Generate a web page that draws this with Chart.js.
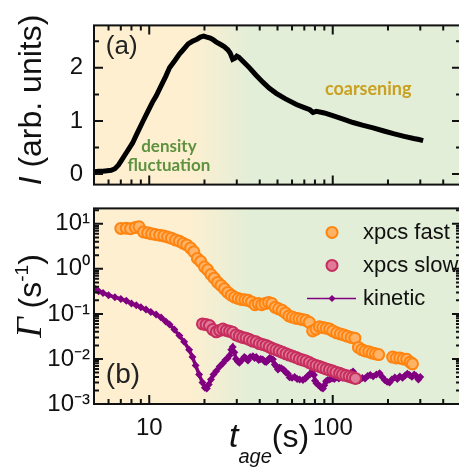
<!DOCTYPE html>
<html lang="en">
<head>
<meta charset="UTF-8">
<title>Intensity and relaxation rate vs sample age</title>
<script src="https://cdn.jsdelivr.net/npm/chart.js"></script>
<style>
  html, body { margin: 0; padding: 0; overflow: hidden; background: #fff; }
  #wrap { position: relative; width: 459px; height: 471px; overflow: hidden; }
  canvas { position: absolute; left: 0; }
  #topPanel { top: 0; }
  #botPanel { top: 190px; }
</style>
</head>
<body>
<div id="wrap">
  <canvas id="topPanel" width="470" height="210" style="width:470px;height:210px"></canvas>
  <canvas id="botPanel" width="470" height="281" style="width:470px;height:281px"></canvas>
</div>
<script>
// panel (a): scattered intensity
const ageI = [5.0, 5.3, 5.6, 5.9, 6.2, 6.5, 6.8, 7.1, 7.5, 8.1, 8.6, 9.2, 9.8, 10.4, 10.9, 11.6, 12.3, 12.9,
  13.8, 14.6, 15.4, 16.3, 17.2, 18.2, 19.0, 19.8, 20.6, 21.5, 22.3, 23.1, 24.5, 25.6, 26.8, 27.6, 28.5,
  29.3, 30.0, 30.8, 32.5, 35.2, 38.0, 41.6, 45.0, 49.2, 55.0, 63.4, 70.0, 75.0, 78.0, 81.5, 90.0, 100,
  115, 129, 145, 166, 190, 214, 245, 276, 295, 311];
const intensity = [0.04, 0.05, 0.05, 0.06, 0.07, 0.10, 0.17, 0.27, 0.40, 0.58, 0.77, 0.98, 1.17, 1.35, 1.47,
  1.66, 1.84, 2.00, 2.14, 2.26, 2.35, 2.45, 2.50, 2.54, 2.58, 2.60, 2.58, 2.56, 2.53, 2.49, 2.44, 2.40,
  2.34, 2.28, 2.16, 2.18, 2.22, 2.20, 2.12, 2.00, 1.87, 1.73, 1.62, 1.52, 1.42, 1.31, 1.25, 1.21, 1.16,
  1.18, 1.15, 1.10, 1.03, 0.97, 0.92, 0.87, 0.81, 0.76, 0.71, 0.67, 0.65, 0.63];

// panel (b): relaxation rates
const ageFast = [7.0, 7.5, 7.9, 8.4, 8.8, 9.3, 9.8, 10.3, 10.8, 11.4, 12.0, 12.6, 13.2, 13.9, 14.6, 15.3,
  16.0, 16.8, 17.5, 18.3, 19.1, 20.0, 20.8, 21.7, 22.6, 23.6, 24.6, 25.7, 26.8, 28.0, 29.2, 30.5, 31.8,
  33.2, 34.6, 36.1, 37.7, 39.3, 41.0, 42.8, 44.7, 46.6, 48.6, 50.7, 53.0, 55.3, 57.7, 60.2, 62.8, 65.5,
  68.4, 71.4, 74.5, 77.7, 81.1, 84.6, 88.3, 92.2, 96.2, 100, 105, 110, 115, 120, 126, 132, 138, 144,
  150, 157, 164, 171, 178, 212, 222, 232, 242, 253, 264, 272];
const rateFast = [7.9, 8.0, 7.8, 8.3, 8.6, 6.6, 6.3, 6.0, 5.8, 5.6, 5.4, 5.1, 4.8, 4.4, 4.1, 3.7, 3.4,
  2.9, 2.4, 1.7, 1.45, 1.1, 0.95, 0.75, 0.62, 0.50, 0.43, 0.36, 0.30, 0.26, 0.235, 0.22, 0.21, 0.205,
  0.20, 0.185, 0.16, 0.17, 0.16, 0.17, 0.18, 0.17, 0.14, 0.13, 0.12, 0.105, 0.09, 0.085, 0.08, 0.078,
  0.075, 0.072, 0.065, 0.042, 0.046, 0.052, 0.05, 0.048, 0.046, 0.042, 0.038, 0.036, 0.034, 0.032,
  0.030, 0.029, 0.018, 0.016, 0.015, 0.0145, 0.0135, 0.013, 0.0125, 0.011, 0.0105, 0.0105, 0.010,
  0.0098, 0.0085, 0.0078];

const ageSlow = [19.5, 20.4, 21.3, 22.2, 23.2, 24.2, 25.2, 26.3, 27.4, 28.5, 29.7, 31.0, 32.3, 33.7, 35.1,
  36.6, 38.2, 39.8, 41.5, 43.3, 45.1, 47.0, 49.0, 51.1, 53.3, 55.6, 58.0, 60.5, 63.1, 65.8, 68.6, 71.5,
  74.6, 77.8, 81.1, 84.6, 88.2, 92.0, 95.9, 100, 104, 109, 113, 118, 123, 128, 133];
const rateSlow = [0.060, 0.058, 0.055, 0.045, 0.040, 0.043, 0.046, 0.043, 0.041, 0.039, 0.034, 0.032,
  0.030, 0.029, 0.027, 0.025, 0.024, 0.022, 0.021, 0.020, 0.0185, 0.017, 0.016, 0.015, 0.014, 0.013,
  0.0122, 0.0115, 0.0108, 0.010, 0.0095, 0.009, 0.0083, 0.0076, 0.0072, 0.0068, 0.0064, 0.006, 0.0057,
  0.0054, 0.0051, 0.0048, 0.0045, 0.0043, 0.0041, 0.0039, 0.0037];

const ageKin = [5.0, 5.3, 5.6, 6.0, 6.5, 7.0, 7.5, 8.0, 8.5, 9.0, 9.6, 10.2, 10.9, 11.6, 12.3, 12.9, 13.7,
  14.6, 15.5, 16.5, 17.2, 17.9, 18.7, 19.5, 20.1, 20.6, 21.1, 21.7, 22.4, 23.2, 24.2, 25.2, 26.0, 26.7,
  27.4, 28.0, 28.5, 29.1, 29.7, 30.4, 31.0, 32.0, 33.0, 33.7, 34.5, 35.5, 36.7, 37.5, 38.3, 39.5, 40.5,
  41.5, 42.5, 43.4, 44.4, 45.3, 46.3, 47.2, 48.3, 49.3, 50.3, 51.3, 52.5, 54, 55.5, 57, 58.2, 60, 62,
  64, 66, 68.8, 71, 73, 75, 76.5, 78, 79, 80, 81.5, 83, 85, 86.5, 88.5, 90, 92, 94, 96.3, 99, 102, 105,
  108, 111, 113, 117, 121, 125, 129, 132, 136, 140, 145, 150, 155, 160, 166, 173, 180, 186, 192, 198,
  204, 210, 218, 225, 232, 240, 248, 255, 262, 270, 278, 285, 293, 300];
const rateKin = [0.38, 0.32, 0.29, 0.26, 0.235, 0.215, 0.195, 0.17, 0.155, 0.14, 0.125, 0.11, 0.097,
  0.083, 0.068, 0.058, 0.045, 0.033, 0.024, 0.016, 0.011, 0.0072, 0.0045, 0.0030, 0.0023, 0.0022,
  0.0027, 0.0035, 0.0045, 0.0054, 0.0068, 0.0080, 0.0095, 0.0103, 0.012, 0.016, 0.0185, 0.014, 0.010,
  0.0088, 0.0082, 0.0095, 0.011, 0.0102, 0.0092, 0.011, 0.0115, 0.0105, 0.011, 0.0095, 0.010, 0.0098,
  0.0088, 0.0085, 0.0095, 0.0105, 0.010, 0.0098, 0.0075, 0.0068, 0.0058, 0.0064, 0.0062, 0.0058, 0.005,
  0.0047, 0.0039, 0.0038, 0.004, 0.0036, 0.0035, 0.0034, 0.0037, 0.0042, 0.0045, 0.0050, 0.0055,
  0.0044, 0.0033, 0.0029, 0.0027, 0.0025, 0.0023, 0.0022, 0.0026, 0.0032, 0.0034, 0.0035, 0.0037,
  0.0036, 0.0039, 0.0037, 0.0040, 0.0038, 0.0042, 0.0045, 0.0049, 0.0053, 0.0041, 0.0037, 0.0034,
  0.0038, 0.0037, 0.0042, 0.0044, 0.0041, 0.0045, 0.0048, 0.0040, 0.0034, 0.0031, 0.0030, 0.0035,
  0.0039, 0.0036, 0.0041, 0.0038, 0.0043, 0.0047, 0.0044, 0.0040, 0.0045, 0.0042, 0.0035, 0.0040];

// axes
const ageLabels = [10, 100];
const ageMinor = [6, 7, 8, 9, 20, 30, 40, 50, 60, 70, 80, 90, 200, 300, 400];
const iLabels = [0, 1, 2];
const iMinor = [0.5, 1.5, 2.5];
const rateLabels = [0.001, 0.01, 0.1, 1, 10];

const rateMinor = [];
for (let e = -3; e <= 1; e++) {
  for (let m = 2; m <= 9; m++) {
    const v = m * Math.pow(10, e);
    if (v < 22) rateMinor.push(v);
  }
}

const pts = (xs, ys) => xs.map((x, i) => ({ x: x, y: ys[i] }));
const sup = { '-': '\u207B', '0': '\u2070', '1': '\u00B9', '2': '\u00B2', '3': '\u00B3' };
const tickFont = { family: 'Liberation Sans, Arial, sans-serif', size: 24 };
const cream = 'rgb(253,239,208)';
const green = 'rgb(226,238,216)';

// background, frame, inward ticks, notes and titles for one panel
function panel(cfg) {
  return {
    id: 'panel',
    beforeDraw(chart) {
      const { ctx, chartArea: a } = chart;
      const xs = chart.scales.x;
      const w = a.right - a.left;
      const g = ctx.createLinearGradient(a.left, 0, a.right, 0);
      g.addColorStop(0, cream);
      g.addColorStop((xs.getPixelForValue(17) - a.left) / w, cream);
      g.addColorStop((xs.getPixelForValue(36) - a.left) / w, green);
      g.addColorStop(1, green);
      ctx.save();
      ctx.fillStyle = g;
      ctx.fillRect(a.left, a.top, w, a.bottom - a.top);
      ctx.restore();
    },
    afterDatasetsDraw(chart) {
      const { ctx } = chart;
      const xs = chart.scales.x, ys = chart.scales.y;
      ctx.save();
      (cfg.notes || []).forEach(n => {
        ctx.font = n.font;
        ctx.fillStyle = n.color;
        ctx.textAlign = n.align;
        ctx.textBaseline = 'middle';
        ctx.fillText(n.text, xs.getPixelForValue(n.x), ys.getPixelForValue(n.y));
      });
      ctx.restore();
      if (cfg.legend) cfg.legend(chart);
    },
    afterDraw(chart) {
      const { ctx, chartArea: a } = chart;
      const xs = chart.scales.x, ys = chart.scales.y;
      ctx.save();
      ctx.strokeStyle = '#111';
      ctx.lineWidth = 2;
      ctx.beginPath();
      const xt = (vals, len) => vals.forEach(v => {
        const p = xs.getPixelForValue(v);
        ctx.moveTo(p, a.bottom); ctx.lineTo(p, a.bottom - len);
        if (cfg.topTicks) { ctx.moveTo(p, a.top); ctx.lineTo(p, a.top + len); }
      });
      const yt = (vals, len) => vals.forEach(v => {
        const p = ys.getPixelForValue(v);
        ctx.moveTo(a.left, p); ctx.lineTo(a.left + len, p);
        ctx.moveTo(a.right, p); ctx.lineTo(a.right - len, p);
      });
      xt(ageLabels, 9); xt(ageMinor, 5);
      yt(cfg.yMajor, 9); yt(cfg.yMinor, 5);
      ctx.stroke();
      ctx.strokeRect(a.left, a.top, a.right - a.left, a.bottom - a.top);
      ctx.restore();
      cfg.titles.forEach(t => drawSegments(ctx, t));
    }
  };
}

function drawSegments(ctx, t) {
  ctx.save();
  ctx.translate(t.x, t.y);
  if (t.rotate) ctx.rotate(-Math.PI / 2);
  let total = 0;
  t.segs.forEach(s => { ctx.font = s.font; s.w = ctx.measureText(s.text).width; total += s.w; });
  let cx = t.center ? -total / 2 : 0;
  ctx.fillStyle = '#111';
  ctx.textAlign = 'left';
  ctx.textBaseline = 'alphabetic';
  t.segs.forEach(s => { ctx.font = s.font; ctx.fillText(s.text, cx, s.dy || 0); cx += s.w; });
  ctx.restore();
}

function drawLegend(chart) {
  const { ctx, chartArea: a } = chart;
  const mx = a.right - 129, tx = a.right - 98;
  ctx.save();
  chart.data.datasets.forEach((ds, i) => {
    const y = a.top + 24 + i * 33;
    if (ds.showLine) {
      ctx.strokeStyle = ds.borderColor;
      ctx.lineWidth = 1.5;
      ctx.beginPath(); ctx.moveTo(mx - 25, y); ctx.lineTo(mx + 24, y); ctx.stroke();
      ctx.fillStyle = ds.pointBackgroundColor;
      ctx.beginPath();
      ctx.moveTo(mx, y - 3.5); ctx.lineTo(mx + 3.5, y); ctx.lineTo(mx, y + 3.5); ctx.lineTo(mx - 3.5, y);
      ctx.closePath(); ctx.fill();
    } else {
      ctx.fillStyle = ds.backgroundColor;
      ctx.strokeStyle = ds.borderColor;
      ctx.lineWidth = ds.borderWidth;
      ctx.beginPath(); ctx.arc(mx, y, ds.pointRadius, 0, Math.PI * 2); ctx.fill(); ctx.stroke();
    }
    ctx.fillStyle = '#111';
    ctx.font = '22px Liberation Sans, Arial, sans-serif';
    ctx.textAlign = 'left';
    ctx.textBaseline = 'middle';
    ctx.fillText(ds.label, tx, y + 1);
  });
  ctx.restore();
}

new Chart(document.getElementById('topPanel'), {
  type: 'scatter',
  data: {
    datasets: [{
      label: 'I',
      data: pts(ageI, intensity),
      showLine: true,
      borderColor: '#000',
      borderWidth: 5,
      pointRadius: 0
    }]
  },
  options: {
    responsive: false,
    animation: false,
    layout: { padding: { top: 12, right: 9, bottom: 7, left: 0 } },
    plugins: { legend: { display: false }, tooltip: { enabled: false } },
    scales: {
      x: { type: 'logarithmic', min: 5, max: 500, display: false },
      y: {
        min: -0.2, max: 2.8,
        grid: { display: false, drawTicks: false },
        border: { display: false },
        afterBuildTicks: s => { s.ticks = iLabels.map(v => ({ value: v })); },
        afterFit: s => { s.width = 94; },
        ticks: { padding: 11, color: '#111', font: tickFont, callback: v => String(v) }
      }
    }
  },
  plugins: [panel({
    topTicks: true,
    yMajor: iLabels, yMinor: iMinor,
    notes: [
      { text: '(a)', x: 5.8, y: 2.39, align: 'left', color: '#222', font: '26px Liberation Sans, Arial, sans-serif' },
      { text: 'density', x: 12.8, y: 0.51, align: 'center', color: '#5E9140', font: 'bold 17px Lato, sans-serif' },
      { text: 'fluctuation', x: 12.8, y: 0.16, align: 'center', color: '#5E9140', font: 'bold 17px Lato, sans-serif' },
      { text: 'coarsening', x: 156, y: 1.60, align: 'center', color: '#C9A020', font: 'bold 18px Lato, sans-serif' }
    ],
    titles: [{
      x: 41, y: 100, rotate: true, center: true,
      segs: [
        { text: 'I', font: 'italic 32px Liberation Sans, Arial, sans-serif' },
        { text: ' (arb. units)', font: '32px Liberation Sans, Arial, sans-serif' }
      ]
    }]
  })]
});

new Chart(document.getElementById('botPanel'), {
  type: 'scatter',
  data: {
    datasets: [{
      label: 'xpcs fast',
      data: pts(ageFast, rateFast),
      backgroundColor: '#FFB366',
      borderColor: '#FF8410',
      borderWidth: 2,
      pointRadius: 5.5
    }, {
      label: 'xpcs slow',
      data: pts(ageSlow, rateSlow),
      backgroundColor: '#E07A98',
      borderColor: '#C62E5E',
      borderWidth: 2,
      pointRadius: 5.5
    }, {
      label: 'kinetic',
      data: pts(ageKin, rateKin),
      showLine: true,
      borderColor: '#800080',
      borderWidth: 3.5,
      pointStyle: 'rectRot',
      pointRadius: 1.5,
      pointBackgroundColor: '#800080',
      pointBorderColor: '#800080'
    }]
  },
  options: {
    responsive: false,
    animation: false,
    layout: { padding: { top: 13, right: 9, bottom: 0, left: 0 } },
    plugins: { legend: { display: false }, tooltip: { enabled: false } },
    scales: {
      x: {
        type: 'logarithmic', min: 5, max: 500,
        grid: { display: false, drawTicks: false },
        border: { display: false },
        afterBuildTicks: s => { s.ticks = ageLabels.map(v => ({ value: v })); },
        afterFit: s => { s.height = 67; },
        ticks: { padding: 10, autoSkip: false, maxRotation: 0, color: '#111', font: tickFont, callback: v => String(v) }
      },
      y: {
        type: 'logarithmic', min: 0.001, max: 22,
        grid: { display: false, drawTicks: false },
        border: { display: false },
        afterBuildTicks: s => { s.ticks = rateLabels.map(v => ({ value: v })); },
        afterFit: s => { s.width = 94; },
        ticks: {
          padding: 4, color: '#111', font: tickFont,
          callback: v => '10' + String(Math.round(Math.log10(v))).split('').map(c => sup[c]).join('')
        }
      }
    }
  },
  plugins: [panel({
    topTicks: false,
    yMajor: rateLabels, yMinor: rateMinor,
    legend: drawLegend,
    notes: [
      { text: '(b)', x: 5.8, y: 0.0043, align: 'left', color: '#222', font: '28px Liberation Sans, Arial, sans-serif' }
    ],
    titles: [{
      x: 41, y: 106, rotate: true, center: true,
      segs: [
        { text: '\u0393', font: 'italic 36px Liberation Serif, Times New Roman, serif' },
        { text: ' (s', font: '32px Liberation Sans, Arial, sans-serif' },
        { text: '-1', font: '19px Liberation Sans, Arial, sans-serif', dy: -13 },
        { text: ')', font: '32px Liberation Sans, Arial, sans-serif' }
      ]
    }, {
      x: 229, y: 257, rotate: false, center: false,
      segs: [
        { text: 't', font: 'italic 34px Liberation Sans, Arial, sans-serif' },
        { text: 'age', font: 'italic 20px Liberation Sans, Arial, sans-serif', dy: 16 },
        { text: '(s)', font: '32px Liberation Sans, Arial, sans-serif' }
      ]
    }]
  })]
});
</script>
</body>
</html>
